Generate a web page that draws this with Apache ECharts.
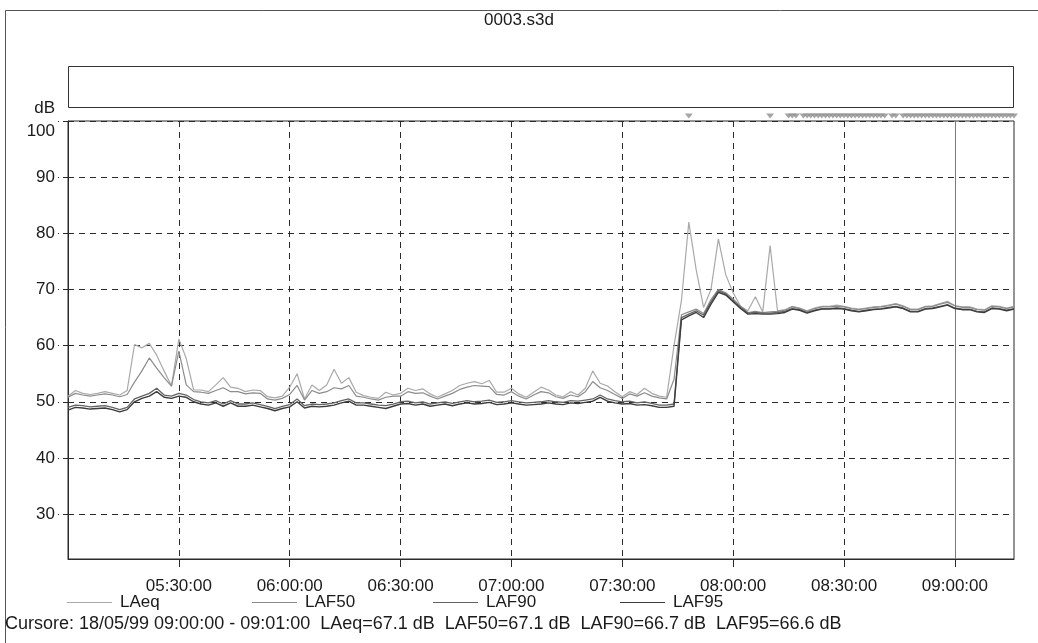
<!DOCTYPE html>
<html><head><meta charset="utf-8">
<script src="https://cdn.jsdelivr.net/npm/echarts@6/dist/echarts.min.js"></script>
<style>html,body{margin:0;padding:0;background:#fff}#c{width:1038px;height:643px}</style>
</head><body><div id="c"></div>
<script>
const chartTitle = '0003.s3d';
const startHour = 5;
// sampling instants, minutes after 05:00
const minutes = [];
for (let m = 0; m <= 256; m += 2) minutes.push(m);

const LAeq = [51.0,52.0,51.5,51.3,51.5,51.8,51.5,51.2,52.0,60.2,
59.6,60.4,58.3,55.5,52.8,61.2,57.7,52.1,52.1,51.8,
53.0,54.3,52.6,52.4,51.8,52.1,52.0,50.9,50.7,51.0,
52.6,55.0,50.5,53.0,52.0,53.0,55.8,53.3,54.3,51.7,
51.1,50.8,50.6,51.7,51.2,51.5,52.4,52.0,52.3,51.4,
50.8,51.4,52.0,52.9,53.3,53.6,53.2,53.8,51.7,51.7,
52.4,51.4,50.8,51.7,52.6,52.1,51.2,50.9,51.8,51.2,
52.4,55.5,53.3,52.8,51.8,50.9,51.8,51.3,52.4,51.5,
51.0,50.8,60.0,68.0,82.0,73.5,66.8,70.0,79.0,72.6,
69.4,67.0,66.2,68.7,66.0,77.8,66.2,66.4,67.0,66.7,
66.2,66.7,67.0,67.0,67.2,67.0,66.7,66.5,66.7,66.9,
67.0,67.2,67.5,67.1,66.5,66.5,67.0,67.1,67.5,67.9,
67.1,66.9,66.9,66.5,66.4,67.1,67.0,66.7,67.0];

const LAF50 = [50.8,51.5,51.2,51.0,51.2,51.4,51.2,50.9,51.3,53.5,
55.5,57.8,56.0,54.3,52.8,59.0,53.0,51.8,51.7,51.5,
52.0,52.5,51.8,51.8,51.4,51.6,51.5,50.5,50.3,50.6,
51.3,52.9,50.3,52.0,51.5,51.8,52.5,52.3,52.9,51.0,
50.8,50.5,50.3,50.8,51.0,51.0,51.8,51.5,51.6,51.0,
50.5,51.0,51.5,52.2,52.6,52.9,52.8,52.7,51.3,51.2,
51.8,51.0,50.5,51.2,51.8,51.6,50.9,50.6,51.2,50.9,
51.8,53.6,52.5,52.0,51.3,50.6,51.4,51.0,51.6,51.0,
50.7,50.5,54.0,65.5,66.0,66.5,65.7,68.2,70.0,69.4,
68.3,67.0,65.9,66.1,65.9,66.0,66.1,66.3,66.9,66.6,
66.1,66.6,66.9,66.9,67.0,66.9,66.6,66.4,66.6,66.8,
66.9,67.1,67.4,67.0,66.4,66.4,66.9,67.0,67.4,67.7,
67.1,66.8,66.8,66.4,66.3,67.0,66.9,66.6,66.9];

const LAF90 = [49.0,49.4,49.3,49.1,49.2,49.3,49.0,48.6,49.0,50.5,
51.0,51.5,52.4,51.2,51.0,51.5,51.2,50.4,50.0,49.8,
50.2,49.6,50.2,49.6,49.6,49.8,49.5,49.2,48.8,49.2,
49.5,50.5,49.3,49.6,49.5,49.6,49.8,50.2,50.5,49.8,
49.8,49.6,49.4,49.3,49.6,50.0,50.1,49.8,50.0,49.6,
49.8,50.0,49.7,50.0,50.2,50.0,50.1,50.3,49.9,50.0,
50.2,50.0,49.8,49.9,50.0,50.2,50.0,49.9,50.2,50.1,
50.3,50.5,51.2,50.5,50.2,50.0,50.1,49.8,50.0,49.7,
49.4,49.4,49.6,65.0,65.6,66.2,65.4,67.8,69.8,69.2,
68.0,66.8,65.8,65.9,65.8,65.8,65.9,66.1,66.6,66.4,
65.9,66.3,66.6,66.6,66.7,66.6,66.3,66.1,66.3,66.5,
66.6,66.8,67.0,66.7,66.1,66.1,66.6,66.7,67.0,67.3,
66.7,66.5,66.5,66.1,66.0,66.7,66.6,66.3,66.6];

const LAF95 = [48.5,49.0,48.9,48.7,48.8,48.9,48.6,48.2,48.6,50.0,
50.6,51.0,51.8,50.8,50.6,51.0,50.8,50.0,49.6,49.4,
49.8,49.2,49.8,49.2,49.2,49.4,49.1,48.8,48.4,48.8,
49.1,50.0,48.9,49.2,49.1,49.2,49.4,49.8,50.1,49.4,
49.4,49.2,49.0,48.8,49.2,49.6,49.7,49.4,49.6,49.2,
49.4,49.6,49.3,49.6,49.8,49.6,49.7,49.9,49.5,49.6,
49.8,49.6,49.4,49.5,49.6,49.8,49.6,49.5,49.8,49.7,
49.9,50.1,50.8,50.1,49.8,49.6,49.7,49.4,49.5,49.3,
49.0,49.0,49.2,64.6,65.3,65.9,65.0,67.4,69.5,69.0,
67.8,66.6,65.6,65.7,65.6,65.6,65.7,65.9,66.5,66.3,
65.8,66.2,66.5,66.5,66.6,66.5,66.2,66.0,66.2,66.4,
66.5,66.7,66.9,66.6,66.0,66.0,66.5,66.6,66.9,67.2,
66.6,66.4,66.4,66.0,65.9,66.6,66.5,66.2,66.5];

// event markers (minutes after 05:00) shown as triangles above the plot
const markerMinutes = [168,190,195,196,197,199,200,201,202,203,204,205,206,207,208,209,210,211,212,213,214,215,216,217,218,219,220,221,
223,224,226,227,228,229,230,231,232,233,234,235,236,237,238,239,240,241,242,243,244,245,246,247,248,249,250,251,252,253,254,255,256];

const xTickMinutes = [30,60,90,120,150,180,210,240];
const yTicks = [30,40,50,60,70,80,90,100];
const seriesNames = ['LAeq','LAF50','LAF90','LAF95'];
const seriesValues = [LAeq, LAF50, LAF90, LAF95];
const cursorMinute = 240;
const cursorText = 'Cursore: 18/05/99 09:00:00 - 09:01:00  LAeq=67.1 dB  LAF50=67.1 dB  LAF90=66.7 dB  LAF95=66.6 dB';

const FONT = "'Liberation Sans', Arial, sans-serif";
const colors = ['#a9a9a9', '#8c8c8c', '#646464', '#3c3c3c'];
const widths = [1.2, 1.2, 1.3, 1.4];
const legendLeft = [67, 252, 433, 620];

function fmtMin(m) {
  const h = startHour + Math.floor(m / 60);
  const mm = m % 60;
  return String(h).padStart(2, '0') + ':' + String(mm).padStart(2, '0') + ':00';
}

const chart = echarts.init(document.getElementById('c'));

const series = seriesNames.map((name, i) => ({
  name, type: 'line', xAxisIndex: 0, yAxisIndex: 0,
  data: minutes.map((m, k) => [m, seriesValues[i][k]]),
  showSymbol: false, symbol: 'none',
  lineStyle: { color: colors[i], width: widths[i] },
  itemStyle: { color: colors[i] },
  z: 3 + i
}));
series[3].markLine = {
  silent: true, symbol: ['none', 'none'], label: { show: false },
  lineStyle: { color: '#7a7a7a', width: 1, type: 'solid' },
  data: [{ xAxis: cursorMinute }]
};
series.push({
  name: 'markers', type: 'scatter', xAxisIndex: 1, yAxisIndex: 1,
  data: markerMinutes.map(m => [m, 0.5]),
  symbol: 'triangle', symbolRotate: 180, symbolSize: [8, 5],
  itemStyle: { color: '#8e8e8e' }, silent: true
});

chart.setOption({
  animation: false,
  backgroundColor: '#fff',
  textStyle: { fontFamily: FONT },
  title: {
    text: chartTitle, left: 'center', top: 7,
    textStyle: { fontFamily: FONT, fontSize: 17, fontWeight: 'normal', color: '#1a1a1a' }
  },
  legend: seriesNames.map((n, i) => ({
    data: [n], left: legendLeft[i], top: 594, padding: 0,
    icon: 'rect', itemWidth: 45, itemHeight: 1,
    textStyle: { fontFamily: FONT, fontSize: 17, color: '#1a1a1a', padding: [0, 0, 0, 3] },
    selectedMode: false
  })),
  grid: [
    { left: 68, right: 24, top: 121, bottom: 84, show: true, borderColor: '#2a2a2a', borderWidth: 1, backgroundColor: 'transparent' },
    { left: 68, right: 24, top: 112, height: 8, show: false }
  ],
  xAxis: [{
    type: 'value', gridIndex: 0, min: 0, max: 256,
    axisLine: { show: true, lineStyle: { color: '#2a2a2a' } },
    axisTick: { show: true, length: 8, customValues: xTickMinutes, lineStyle: { color: '#2a2a2a' } },
    axisLabel: { customValues: xTickMinutes, formatter: v => fmtMin(v), margin: 19, fontSize: 17, color: '#1a1a1a', fontFamily: FONT },
    splitLine: { show: true, lineStyle: { color: '#2a2a2a', type: [6, 5], width: 1 } }
  }, {
    type: 'value', gridIndex: 1, min: 0, max: 256, show: false
  }],
  yAxis: [{
    type: 'value', gridIndex: 0, min: 22, max: 100,
    name: 'dB', nameLocation: 'end', nameGap: 4,
    nameTextStyle: { fontFamily: FONT, fontSize: 17, color: '#1a1a1a', align: 'right', padding: [0, 13, 0, 0] },
    axisLine: { show: true, lineStyle: { color: '#2a2a2a' } },
    axisTick: { show: true, length: 10, customValues: yTicks, lineStyle: { color: '#2a2a2a', type: [5, 4] } },
    axisLabel: {
      customValues: yTicks, margin: 13, fontSize: 17, color: '#1a1a1a', fontFamily: FONT,
      formatter: v => v === 100 ? '{t|100}' : String(v),
      rich: { t: { fontSize: 17, fontFamily: FONT, color: '#1a1a1a', padding: [20, 0, 0, 0] } }
    },
    splitLine: { show: true, lineStyle: { color: '#2a2a2a', type: [6, 5], width: 1 } }
  }, {
    type: 'value', gridIndex: 1, min: 0, max: 1, show: false
  }],
  graphic: [
    { type: 'rect', shape: { x: 5.5, y: 10.5, width: 1100, height: 700 }, style: { fill: 'none', stroke: '#555', lineWidth: 1 }, silent: true, z: -1 },
    { type: 'rect', shape: { x: 68.5, y: 66.5, width: 945, height: 41 }, style: { fill: 'none', stroke: '#333', lineWidth: 1 }, silent: true },
    { type: 'text', left: 5, top: 615, style: { text: cursorText, font: '18px ' + FONT, fill: '#1a1a1a' }, silent: true }
  ],
  series
});
</script></body></html>
